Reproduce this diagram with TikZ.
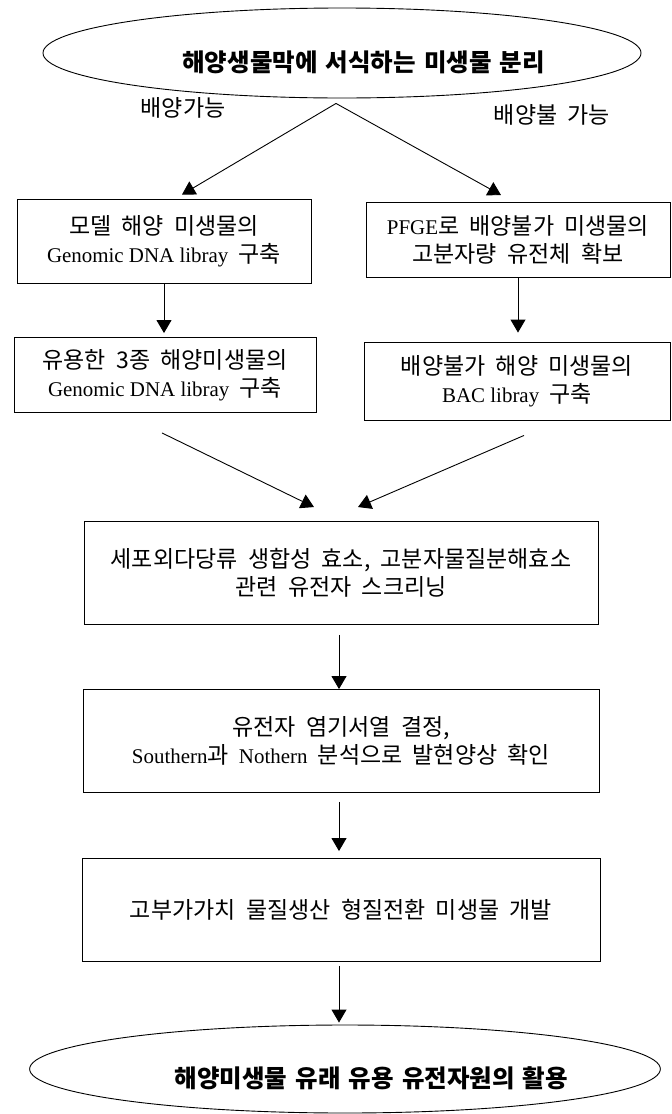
\documentclass[tikz,border=0pt]{standalone}
\usepackage{fontspec}
\setmainfont{Noto Sans CJK KR}[WordSpace=2]
\newfontfamily\lat{Liberation Serif}[Scale=0.91]
\usetikzlibrary{shapes.geometric,arrows.meta}
\tikzset{
  >={Triangle[length=13pt,width=15pt]},
}
\tikzstyle{box}=[draw,align=center,inner sep=0pt]
\tikzstyle{oval}=[draw,ellipse,inner sep=0pt,align=right,text height=36pt,text depth=0pt,
  font=\fontsize{24.5}{28}\selectfont\bfseries]
\tikzstyle{flow}=[->]
\tikzstyle{every node}=[font=\fontsize{23}{28}\selectfont]

\begin{document}
\begin{tikzpicture}[x=1pt,y=-1pt,line width=0.9pt]
    \useasboundingbox (0,0) rectangle (672,1114);
    \node[oval,minimum width=598pt,minimum height=90pt,text width=406pt] (src) at (342,53) {해양생물막에 서식하는 미생물 분리};
    \node (cult) at (183,108) {배양가능};
    \node (uncult) at (552,115) {배양불 가능};
    \node[box,minimum width=294pt,minimum height=84pt] (model) at (164,241) {모델 해양 미생물의\\{\lat Genomic DNA libray} 구축};
    \node[box,minimum width=304pt,minimum height=75pt] (pfge) at (518,240) {{\lat PFGE}로 배양불가 미생물의\\고분자량 유전체 확보};
    \node[box,minimum width=302pt,minimum height=75pt] (three) at (165,375) {유용한 3종 해양미생물의\\{\lat Genomic DNA libray} 구축};
    \node[box,minimum width=306pt,minimum height=78pt] (bac) at (517,381) {배양불가 해양 미생물의\\{\lat BAC libray} 구축};
    \node[box,minimum width=514pt,minimum height=103pt] (screen) at (341,573) {세포외다당류 생합성 효소, 고분자물질분해효소\\관련 유전자 스크리닝};
    \node[box,minimum width=516pt,minimum height=103pt] (seq) at (341,741) {유전자 염기서열 결정,\\{\lat Southern}과 {\lat Nothern} 분석으로 발현양상 확인};
    \node[box,minimum width=518pt,minimum height=103pt] (dev) at (341,910) {고부가가치 물질생산 형질전환 미생물 개발};
    \node[oval,minimum width=570pt,minimum height=88pt,text width=446pt] (use) at (345,1069) {해양미생물 유래 유용 유전자원의 활용};
    % split below the source
    \coordinate (fork) at ([xshift=-6pt,yshift=-5pt]src.south);
    \draw[flow] (fork) -- ([xshift=18pt,yshift=4pt]model.north);
    \draw[flow] (fork) -- ([xshift=-17pt,yshift=7pt]pfge.north);
    \draw[flow,shorten >=4pt] (model.south) -- (model.south |- three.north);
    \draw[flow,shorten >=9pt] (pfge.south) -- (pfge.south |- bac.north);
    % merge into screening
    \draw[flow] ([xshift=-3pt,yshift=-20pt]three.south) -- ([xshift=-27pt,yshift=14pt]screen.north);
    \draw[flow] ([xshift=7pt,yshift=-15pt]bac.south) -- ([xshift=17pt,yshift=14pt]screen.north);
    \draw[flow] ([xshift=-2pt,yshift=-10pt]screen.south) -- ([xshift=-2pt]seq.north);
    \draw[flow] ([xshift=-2pt,yshift=-9pt]seq.south) -- ([xshift=-2pt,yshift=7pt]dev.north);
    \draw[flow,shorten >=2pt] ([xshift=-2pt,yshift=-4pt]dev.south) -- ([xshift=-2pt]dev.south |- use.north);
\end{tikzpicture}
\end{document}
